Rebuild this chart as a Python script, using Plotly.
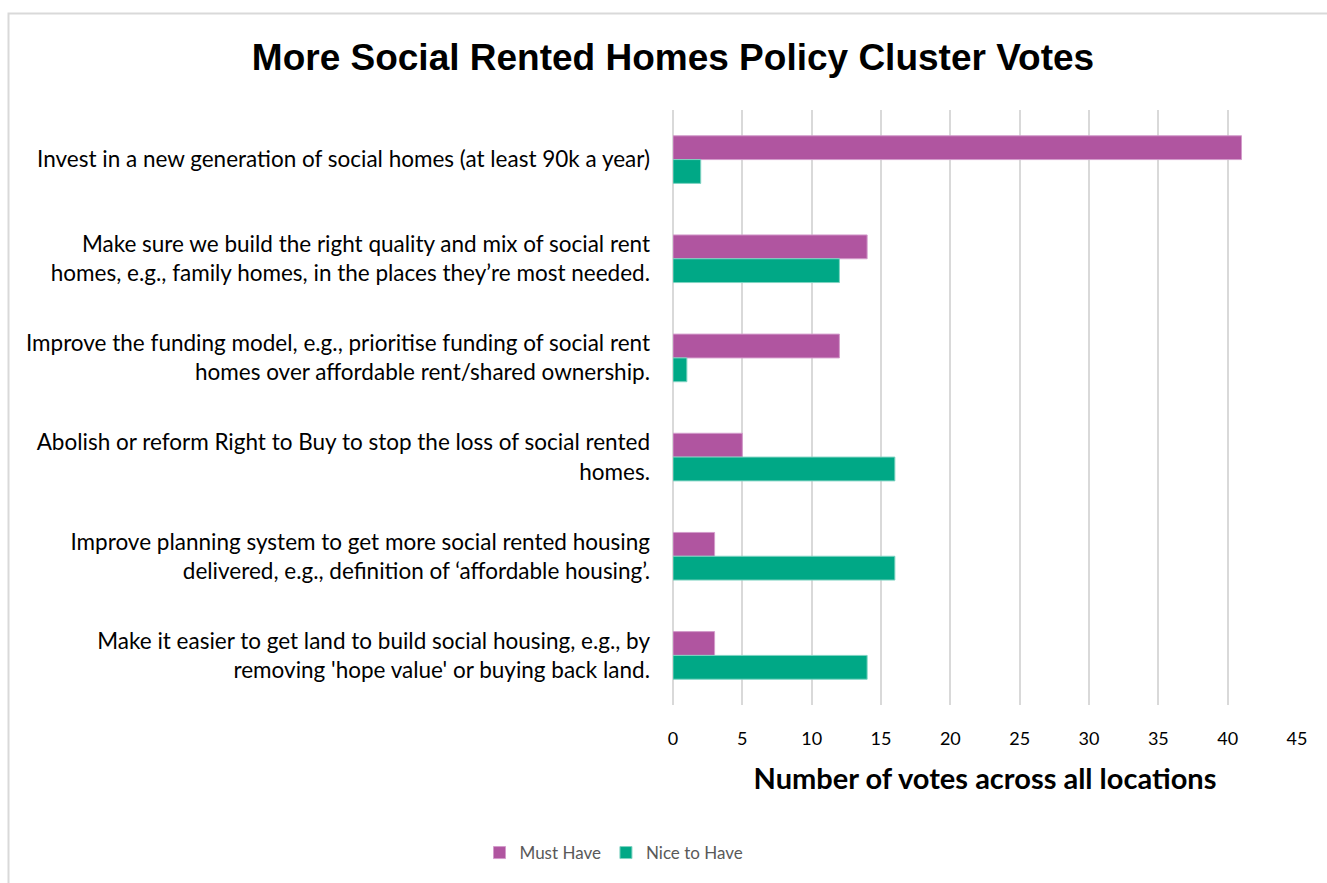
import plotly.graph_objects as go

# Policy options (top to bottom) and vote counts
policies = [
    "Invest in a new generation of social homes (at least 90k a year)",
    "Make sure we build the right quality and mix of social rent<br>homes, e.g., family homes, in the places they’re most needed.",
    "Improve the funding model, e.g., prioritise funding of social rent<br>homes over affordable rent/shared ownership.",
    "Abolish or reform Right to Buy to stop the loss of social rented<br>homes.",
    "Improve planning system to get more social rented housing<br>delivered, e.g., definition of ‘affordable housing’.",
    "Make it easier to get land to build social housing, e.g., by<br>removing 'hope value' or buying back land.",
]
must_have = [41, 14, 12, 5, 3, 3]
nice_to_have = [2, 12, 1, 16, 16, 14]
x_ticks = [0, 5, 10, 15, 20, 25, 30, 35, 40, 45]

PURPLE = "#B055A0"
GREEN = "#00A886"
FONT = "Lato"

W, H = 1327, 883
L, R, T, B = 673, 30, 110, 178
pw, ph = W - L - R, H - T - B

fig = go.Figure()
fig.add_trace(go.Bar(
    y=policies, x=must_have, name="Must Have", orientation="h",
    marker=dict(color=PURPLE, line=dict(color="#d39ccb", width=1)),
))
fig.add_trace(go.Bar(
    y=policies, x=nice_to_have, name="Nice to Have", orientation="h",
    marker=dict(color=GREEN, line=dict(color="#7fd3c2", width=1)),
))

# light outer frame of the chart area
def px_x(v):
    return (v - L) / pw

def px_y(v):
    return (H - B - v) / ph

fig.add_shape(type="rect", xref="paper", yref="paper",
              x0=px_x(8.5), x1=px_x(W + 20), y0=px_y(H + 20), y1=px_y(13.5),
              line=dict(color="#d9d9d9", width=2), fillcolor="rgba(0,0,0,0)",
              layer="below")

fig.update_layout(
    width=W, height=H,
    margin=dict(l=L, r=R, t=T, b=B, autoexpand=False),
    paper_bgcolor="white", plot_bgcolor="white",
    barmode="group", bargap=0.52, bargroupgap=0,
    title=dict(text="<b>More Social Rented Homes Policy Cluster Votes</b>",
               x=673 / W, xanchor="center", y=1 - 57 / H, yanchor="middle",
               font=dict(family="Liberation Sans, Arial", size=37, color="black")),
    font=dict(family=FONT, color="#000000"),
    xaxis=dict(
        range=[0, 45], tickvals=x_ticks, ticktext=[str(t) for t in x_ticks],
        showgrid=True, gridcolor="#d9d9d9", gridwidth=1.5,
        zeroline=True, zerolinecolor="#d9d9d9", zerolinewidth=1.5,
        showline=False, ticks="", ticklabelstandoff=21,
        tickfont=dict(family=FONT, size=18, color="#000000"),
        title=dict(text="<b>Number of votes across all locations</b>",
                   font=dict(family=FONT, size=29, color="black"), standoff=20),
    ),
    yaxis=dict(
        autorange="reversed", showgrid=False, showline=False, ticks="",
        ticklabelstandoff=22,
        tickfont=dict(family=FONT, size=22.5, color="#000000"),
    ),
    legend=dict(orientation="h", x=px_x(614), xanchor="center",
                y=px_y(853), yanchor="middle",
                font=dict(family=FONT, size=17, color="#595959"),
                itemwidth=30, traceorder="normal"),
    showlegend=True,
)

fig.write_html("out.html")
